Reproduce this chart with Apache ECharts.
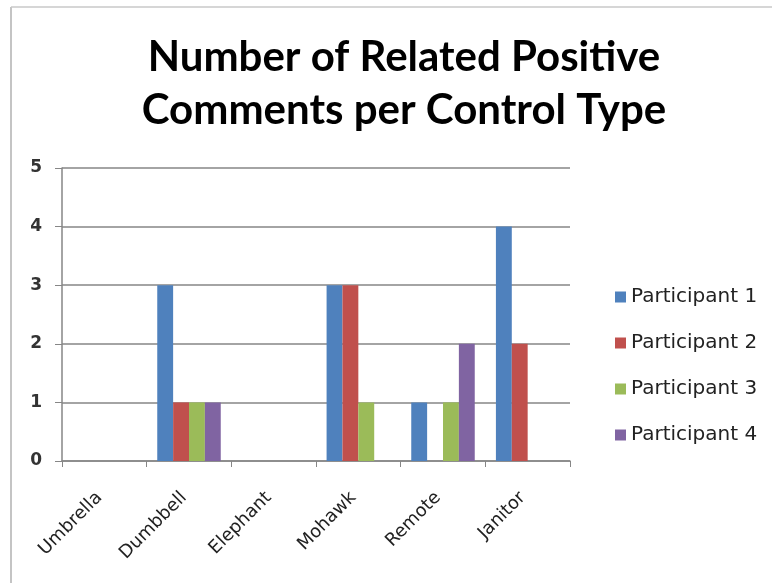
<!DOCTYPE html>
<html>
<head>
<meta charset="utf-8">
<script src="https://cdn.jsdelivr.net/npm/echarts@6/dist/echarts.min.js"></script>
<style>
  html, body { margin: 0; padding: 0; background: #fff; }
  #main { width: 772px; height: 583px; }
</style>
</head>
<body>
<div id="main"></div>
<script type="text/javascript">
  var categories = ['Umbrella', 'Dumbbell', 'Elephant', 'Mohawk', 'Remote', 'Janitor'];
  var p1 = [0, 3, 0, 3, 1, 4];
  var p2 = [0, 1, 0, 3, 0, 2];
  var p3 = [0, 1, 0, 1, 1, 0];
  var p4 = [0, 1, 0, 0, 2, 0];
  var seriesNames = ['Participant 1', 'Participant 2', 'Participant 3', 'Participant 4'];
  var colors = ['#4F81BD', '#C0504D', '#9BBB59', '#8064A2'];

  var myChart = echarts.init(document.getElementById('main'));

  var values = [p1, p2, p3, p4];
  var series = [];
  for (var i = 0; i < values.length; i++) {
    series.push({
      name: seriesNames[i],
      type: 'bar',
      data: values[i],
      barGap: '0%',
      barCategoryGap: '25%',
      itemStyle: { color: colors[i] }
    });
  }

  option = {
    animation: false,
    color: colors,
    title: {
      text: 'Number of Related Positive\nComments per Control Type',
      left: 399,
      textAlign: 'center',
      top: 26,
      textStyle: {
        fontFamily: 'Lato',
        fontWeight: 'bold',
        fontSize: 42,
        lineHeight: 53,
        color: '#000'
      }
    },
    legend: {
      orient: 'vertical',
      left: 610,
      top: 282,
      itemWidth: 11,
      itemHeight: 11,
      itemGap: 26,
      icon: 'rect',
      data: seriesNames,
      textStyle: { fontFamily: 'DejaVu Sans', fontSize: 20, color: '#222' }
    },
    grid: { left: 62, right: 202, top: 168, bottom: 122 },
    xAxis: {
      type: 'category',
      data: categories,
      axisLine: { lineStyle: { color: '#868686', width: 1.5 } },
      axisTick: { show: true, length: 6, lineStyle: { color: '#868686' } },
      axisLabel: {
        rotate: 45,
        margin: 29,
        padding: [0, 7, 0, 0],
        fontFamily: 'DejaVu Sans',
        fontSize: 18,
        color: '#222'
      }
    },
    yAxis: {
      type: 'value',
      min: 0,
      max: 5,
      interval: 1,
      axisLine: { show: true, lineStyle: { color: '#868686', width: 1.5 } },
      axisTick: { show: true, length: 7, lineStyle: { color: '#868686' } },
      splitLine: { lineStyle: { color: '#868686', width: 1.5 } },
      axisLabel: {
        margin: 20,
        fontFamily: 'DejaVu Sans',
        fontWeight: 'bold',
        fontSize: 17,
        color: '#333'
      }
    },
    graphic: [
      { type: 'line', shape: { x1: 11, y1: 7, x2: 11, y2: 583 }, style: { stroke: '#b0b0b0', lineWidth: 1.5 } },
      { type: 'line', shape: { x1: 11, y1: 7, x2: 772, y2: 7 }, style: { stroke: '#c8c8c8', lineWidth: 1.5 } }
    ],
    series: series
  };

  myChart.setOption(option);
</script>
</body>
</html>
